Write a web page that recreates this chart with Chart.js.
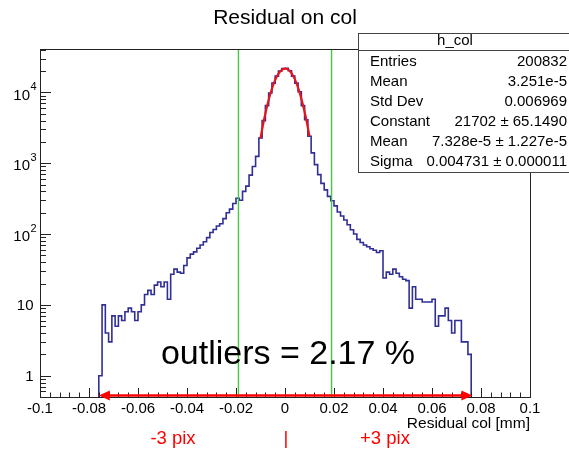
<!DOCTYPE html>
<html>
<head>
<meta charset="utf-8">
<script src="https://cdn.jsdelivr.net/npm/chart.js@4.4.0/dist/chart.umd.min.js"></script>
<style>
  html, body { margin: 0; padding: 0; background: #fff; }
  #wrap { width: 569px; height: 449px; position: relative; }
</style>
</head>
<body>
<div id="wrap"><canvas id="chart" width="569" height="449"></canvas></div>
<script>
// h_col: 150 bins on [-0.1, 0.1], only the filled range is listed
const binLow = -0.076;
const binWidth = 0.2 / 150;
const counts = [
    1, 10, 4, 3, 7, 5, 7, 6, 8, 9,
    8, 6, 8, 10, 14, 16, 14, 19, 21, 18,
    21, 12, 27, 32, 29, 28, 36, 46, 52, 56,
    63, 70, 78, 89, 105, 116, 130, 140, 165, 200,
    225, 270, 320, 300, 400, 475, 680, 900, 1250, 2270,
    4000, 6500, 9800, 13500, 17000, 20000, 21800, 21900, 20200, 17000,
    13500, 10200, 6500, 4100, 2400, 1400, 955, 690, 520, 420,
    340, 295, 250, 205, 180, 158, 135, 115, 100, 84,
    76, 70, 66, 62, 59, 55, 58, 24, 29, 27,
    32, 28, 25, 23, 22, 9, 18, 12, 12, 11,
    11, 11, 12, 5, 7, 7, 9, 6, 4, 6,
    6, 3, 3, 2
];

// gaus fit
const fitX = [-0.0100, -0.0085, -0.0070, -0.0055, -0.0040, -0.0025, -0.0010, 0.0000,
              0.0010, 0.0025, 0.0040, 0.0055, 0.0070, 0.0085, 0.0100];
const fitY = [2250, 4200, 7100, 10800, 15000, 18700, 21100, 21700,
              21300, 19000, 15400, 11200, 7400, 4450, 2400];

// green cut lines and the red +-3 pix arrow
const cutX = [-0.019, 0.019];
const arrowX = [-0.076, 0.0765];

// axes
const xRange = [-0.1, 0.1];
const yRange = [0.5, 41000];
const xTickVals = [-0.1, -0.08, -0.06, -0.04, -0.02, 0, 0.02, 0.04, 0.06, 0.08, 0.1];
const yTickVals = [1, 10, 100, 1000, 10000];
const yTickBase = ['1', '10', '10', '10', '10'];
const yTickExp = ['', '', '2', '3', '4'];

// stats box
const statsName = 'h_col';
const statsLabels = ['Entries', 'Mean', 'Std Dev', 'Constant', 'Mean', 'Sigma'];
const statsValues = ['200832', '3.251e-5', '0.006969', '21702 \u00b1 65.1490', '7.328e-5 \u00b1 1.227e-5', '0.004731 \u00b1 0.000011'];

const FONT = "'Liberation Sans', Arial, Helvetica, sans-serif";
Chart.defaults.font.family = FONT;

// histogram outline: corners of every bin, closed down to the axis at both ends
const histPoints = [{ x: binLow, y: yRange[0] }];
counts.forEach((c, i) => {
    const lo = binLow + i * binWidth;
    histPoints.push({ x: lo, y: c }, { x: lo + binWidth, y: c });
});
histPoints.push({ x: binLow + counts.length * binWidth, y: yRange[0] });

const fitPoints = fitX.map((x, i) => ({ x: x, y: fitY[i] }));

function font(size) { return size + "px " + FONT; }

function line(ctx, x1, y1, x2, y2) {
    ctx.beginPath();
    ctx.moveTo(x1, y1);
    ctx.lineTo(x2, y2);
    ctx.stroke();
}

const rootStyle = {
    id: 'rootStyle',
    afterDatasetsDraw(chart) {
        const { ctx, chartArea: a, scales: { x, y } } = chart;
        ctx.save();

        // frame
        ctx.strokeStyle = '#222';
        ctx.lineWidth = 1;
        ctx.strokeRect(a.left + 0.5, a.top + 0.5, a.right - a.left, a.bottom - a.top);

        // x ticks, pointing inside
        const minor = 0.02 / 5;
        for (let i = 0; i <= 50; i++) {
            const px = Math.round(x.getPixelForValue(xRange[0] + i * minor)) + 0.5;
            const len = i % 5 === 0 ? 9 : 4.5;
            line(ctx, px, a.bottom, px, a.bottom - len);
        }
        // y ticks (log)
        for (let d = -1; d <= 4; d++) {
            for (let m = 1; m <= 9; m++) {
                const v = m * Math.pow(10, d);
                if (v < yRange[0] || v > yRange[1]) continue;
                const py = Math.round(y.getPixelForValue(v)) + 0.5;
                line(ctx, a.left, py, a.left + (m === 1 ? 11 : 6), py);
            }
        }

        // y labels
        ctx.fillStyle = '#000';
        ctx.textBaseline = 'middle';
        yTickVals.forEach((v, i) => {
            const py = y.getPixelForValue(v);
            if (yTickExp[i]) {
                ctx.font = font(15);
                ctx.textAlign = 'right';
                ctx.fillText(yTickBase[i], 30, py + 3);
                ctx.font = font(11);
                ctx.textAlign = 'left';
                ctx.fillText(yTickExp[i], 30.5, py - 5);
            } else {
                ctx.font = font(15);
                ctx.textAlign = 'right';
                ctx.fillText(yTickBase[i], 33.5, py + 1);
            }
        });

        // axis title
        ctx.font = font(15.5);
        ctx.textAlign = 'right';
        ctx.fillText('Residual col [mm]', a.right, 424);

        // red arrow along the axis
        const x1 = x.getPixelForValue(arrowX[0]);
        const x2 = x.getPixelForValue(arrowX[1]);
        const ay = a.bottom - 1.5;
        ctx.strokeStyle = '#f00';
        ctx.fillStyle = '#f00';
        ctx.lineWidth = 2.5;
        line(ctx, x1 + 8, ay, x2 - 8, ay);
        ctx.beginPath();
        ctx.moveTo(x1, ay); ctx.lineTo(x1 + 11, ay - 5); ctx.lineTo(x1 + 11, ay + 5); ctx.closePath();
        ctx.fill();
        ctx.beginPath();
        ctx.moveTo(x2, ay); ctx.lineTo(x2 - 11, ay - 5); ctx.lineTo(x2 - 11, ay + 5); ctx.closePath();
        ctx.fill();
        ctx.restore();
    },
    afterDraw(chart) {
        const { ctx, chartArea: a } = chart;
        ctx.save();
        ctx.fillStyle = '#000';
        ctx.textBaseline = 'middle';

        // title
        ctx.font = font(21);
        ctx.textAlign = 'center';
        ctx.fillText('Residual on col', (a.left + a.right) / 2, 18);

        // stats box
        ctx.fillStyle = '#fff';
        ctx.fillRect(358, 33, 220, 139);
        ctx.strokeStyle = '#444';
        ctx.lineWidth = 1;
        ctx.strokeRect(358.5, 33.5, 220, 139);
        line(ctx, 358, 50.5, 569, 50.5);
        ctx.fillStyle = '#000';
        ctx.font = font(15);
        ctx.textAlign = 'center';
        ctx.fillText(statsName, 455, 41);
        statsLabels.forEach((lab, i) => {
            const ty = 62 + i * 20;
            ctx.textAlign = 'left';
            ctx.fillText(lab, 370, ty);
            ctx.textAlign = 'right';
            ctx.fillText(statsValues[i], 567, ty);
        });

        // annotation
        ctx.font = font(34);
        ctx.textAlign = 'center';
        ctx.textBaseline = 'alphabetic';
        ctx.fillText('outliers = 2.17 %', 288, 364);

        ctx.fillStyle = '#f00';
        ctx.font = font(18.5);
        ctx.textBaseline = 'middle';
        ctx.fillText('-3 pix', 173, 439);
        ctx.fillText('|', 286, 439);
        ctx.fillText('+3 pix', 385, 439);
        ctx.restore();
    }
};

new Chart(document.getElementById('chart'), {
    type: 'line',
    data: {
        datasets: [
            {
                label: 'gaus',
                data: fitPoints,
                borderColor: '#e8141a',
                borderWidth: 2.2,
                pointRadius: 0,
                cubicInterpolationMode: 'monotone',
                order: 1
            },
            {
                label: 'cut low',
                data: [{ x: cutX[0], y: yRange[0] }, { x: cutX[0], y: yRange[1] }],
                borderColor: '#44c844',
                borderWidth: 1.4,
                pointRadius: 0,
                order: 2
            },
            {
                label: 'cut high',
                data: [{ x: cutX[1], y: yRange[0] }, { x: cutX[1], y: yRange[1] }],
                borderColor: '#44c844',
                borderWidth: 1.4,
                pointRadius: 0,
                order: 2
            },
            {
                label: 'h_col',
                data: histPoints,
                borderColor: '#2f2f96',
                borderWidth: 1.6,
                pointRadius: 0,
                tension: 0,
                order: 3
            }
        ]
    },
    options: {
        responsive: false,
        animation: false,
        layout: { padding: { left: 0, top: 49, right: 39, bottom: 0 } },
        plugins: {
            legend: { display: false },
            title: { display: false },
            tooltip: { enabled: false }
        },
        scales: {
            x: {
                type: 'linear',
                min: xRange[0],
                max: xRange[1],
                bounds: 'data',
                grid: { display: false, drawTicks: false },
                border: { display: false },
                afterBuildTicks: (s) => { s.ticks = xTickVals.map(v => ({ value: v })); },
                afterFit: (s) => { s.height = 52; },
                ticks: {
                    autoSkip: false,
                    maxRotation: 0,
                    padding: 3,
                    color: '#000',
                    font: { size: 15 },
                    callback: (v) => String(+Number(v).toFixed(3))
                }
            },
            y: {
                type: 'logarithmic',
                min: yRange[0],
                max: yRange[1],
                bounds: 'data',
                grid: { display: false, drawTicks: false },
                border: { display: false },
                afterFit: (s) => { s.width = 40; },
                ticks: { display: false }
            }
        }
    },
    plugins: [rootStyle]
});
</script>
</body>
</html>
